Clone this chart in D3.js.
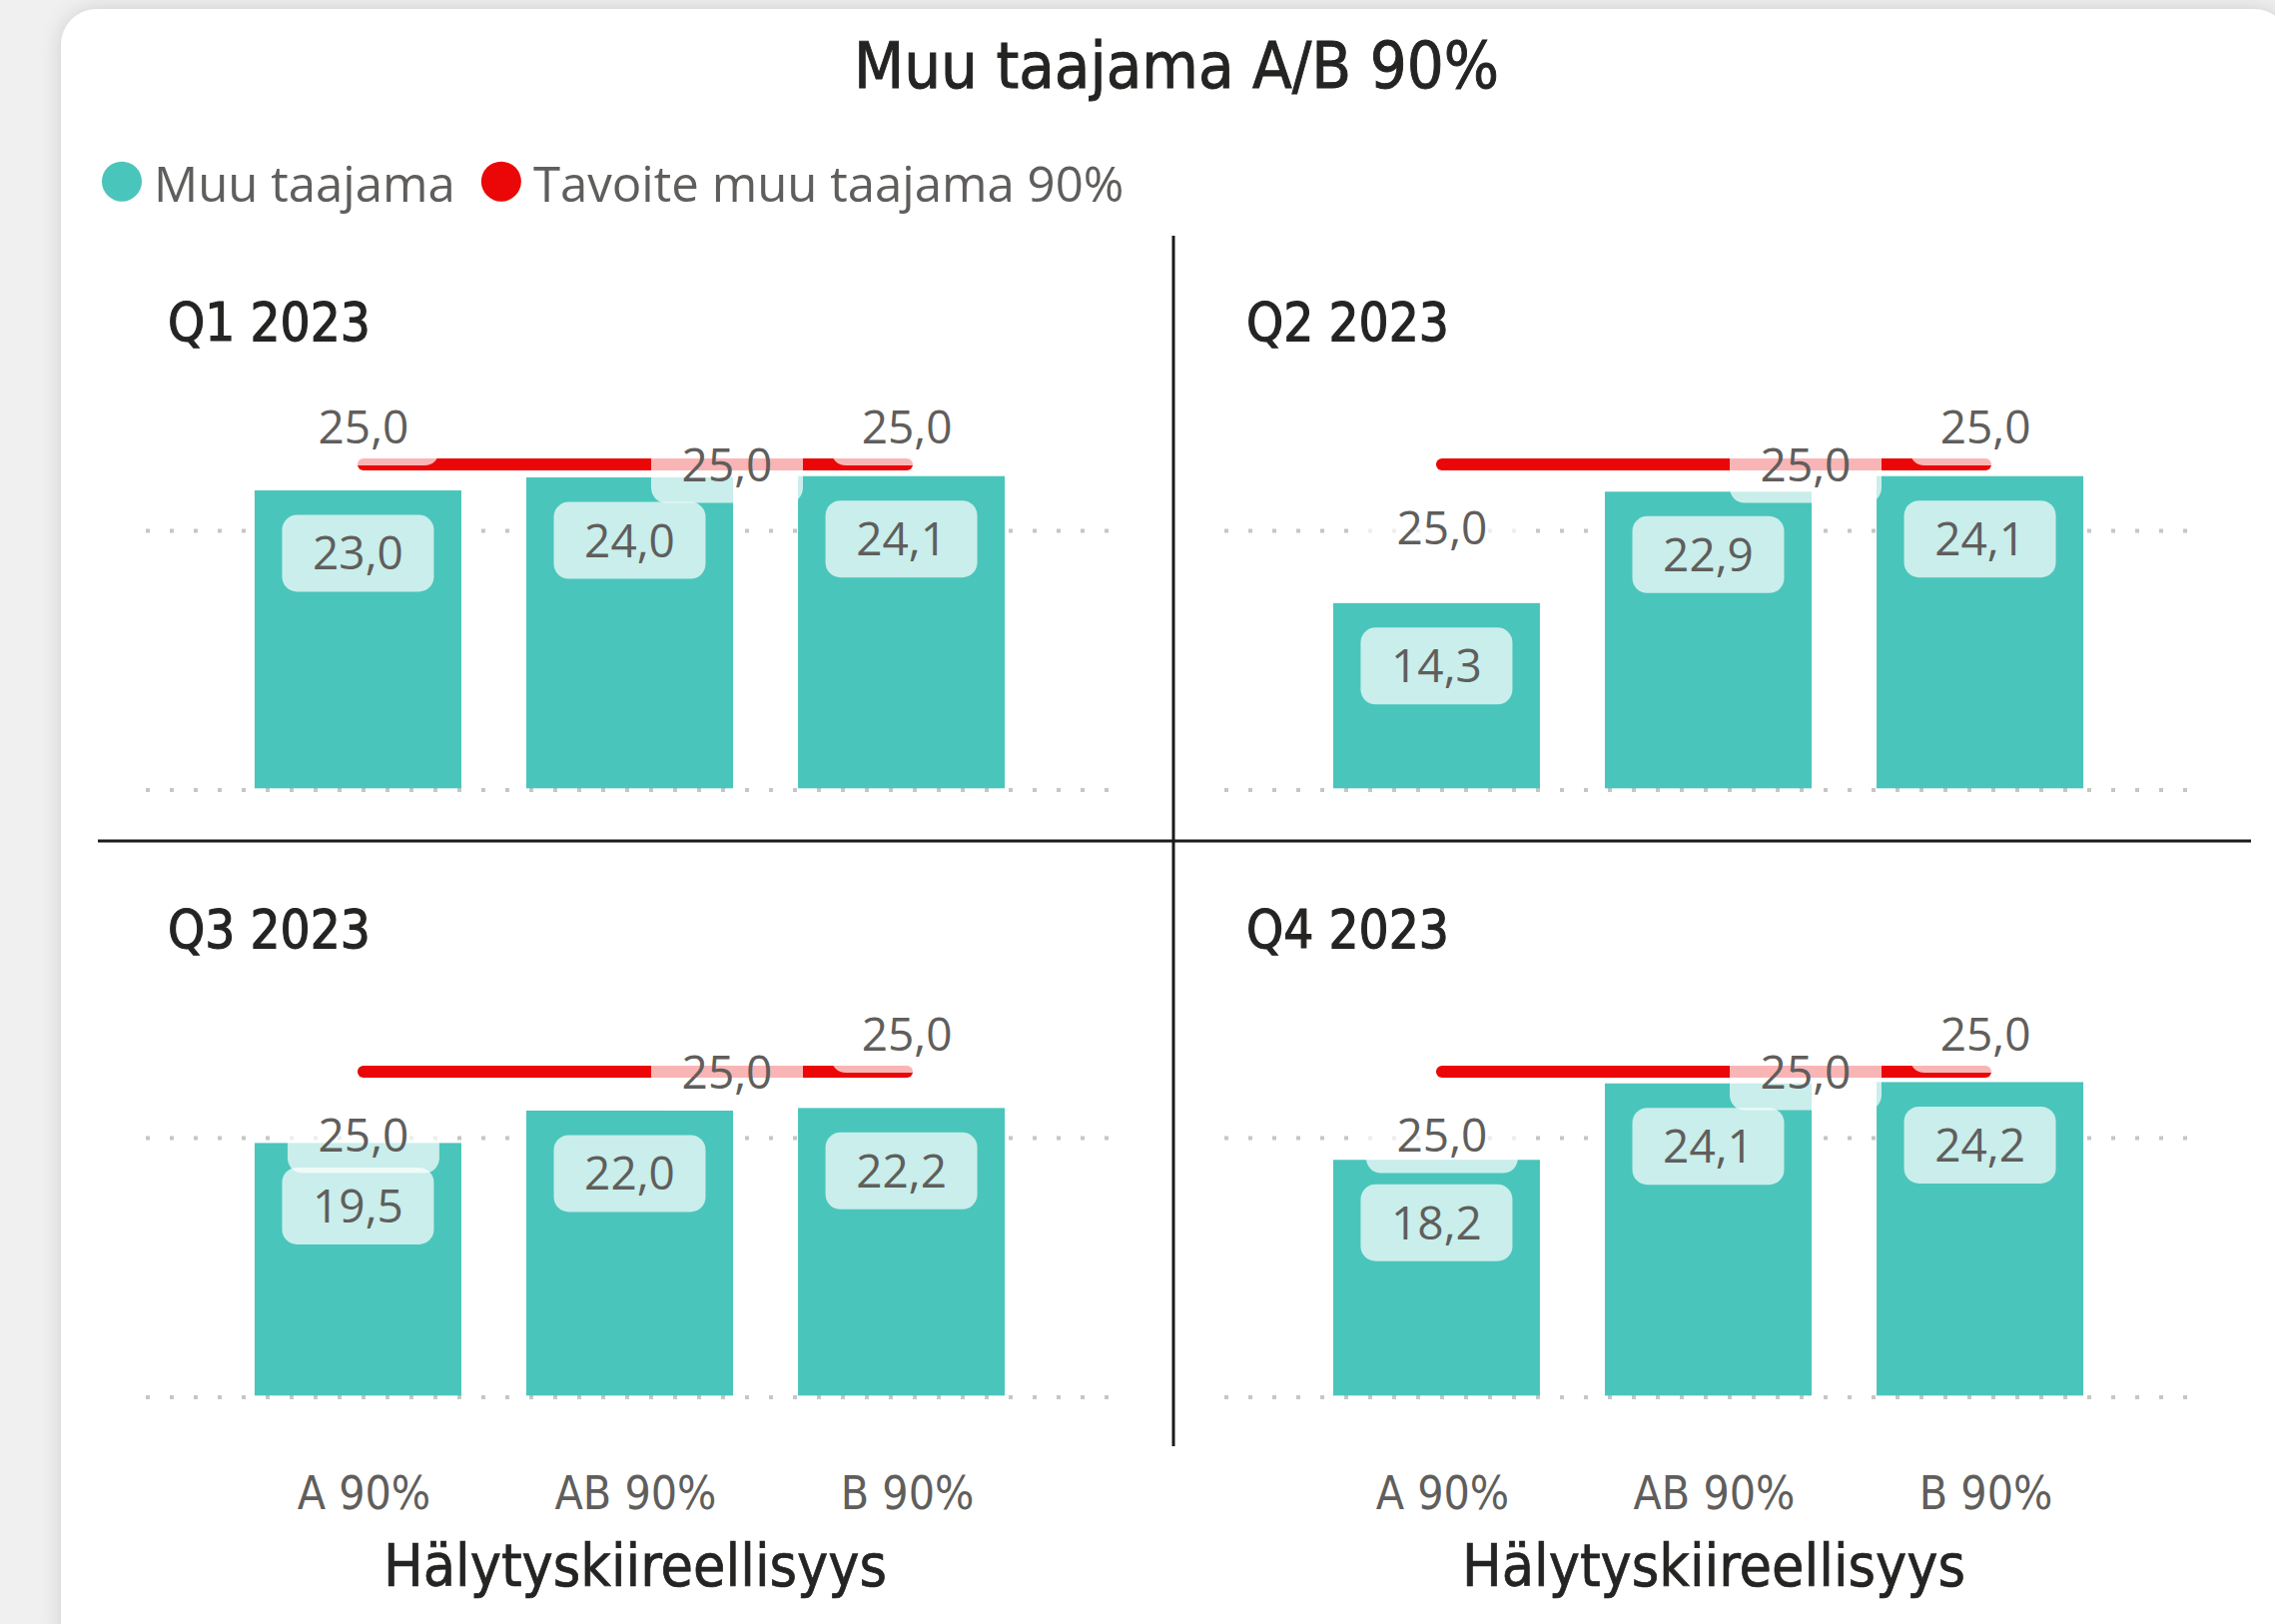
<!DOCTYPE html>
<html>
<head>
<meta charset="utf-8">
<script src="https://cdn.jsdelivr.net/npm/d3@7"></script>
<style>
  html, body { margin: 0; padding: 0; background: #f0f0f0; }
  svg { display: block; }
</style>
</head>
<body>
<svg id="chart" width="2278" height="1626"></svg>
<script>
// ---------- data ----------
const chartTitle = "Muu taajama A/B 90%";
const seriesNames = ["Muu taajama", "Tavoite muu taajama 90%"];
const quarters = ["Q1 2023", "Q2 2023", "Q3 2023", "Q4 2023"];
const categories = ["A 90%", "AB 90%", "B 90%"];
const muuTaajama = [
  [23.0, 24.0, 24.1],
  [14.3, 22.9, 24.1],
  [19.5, 22.0, 22.2],
  [18.2, 24.1, 24.2]
];
const tavoite = [
  [25.0, 25.0, 25.0],
  [25.0, 25.0, 25.0],
  [25.0, 25.0, 25.0],
  [25.0, 25.0, 25.0]
];
const targetLabelPlacement = [
  ["above", "right", "above"],
  ["below", "right", "above"],
  ["below", "right", "above"],
  ["below", "right", "above"]
];
const yTicks = [0, 20];
const axisTitle = "Hälytyskiireellisyys";

// ---------- style ----------
const TEAL = "#4AC5BB";
const RED = "#EB0707";
const LABEL = "#605E5C";
const DARK = "#252423";
const DIN = "'DIN', 'DejaVu Sans Condensed', 'DejaVu Sans', sans-serif";
const SEGOE = "'Segoe UI', 'Open Sans', 'Noto Sans', sans-serif";

const fmt = v => d3.format(".1f")(v).replace(".", ",");

const svg = d3.select("#chart");

function fitWidth(sel, target) {
  const len = sel.node().getComputedTextLength();
  const fs = parseFloat(sel.attr("font-size"));
  sel.attr("font-size", fs * target / len);
  return fs * target / len;
}

// ---------- card ----------
const defs = svg.append("defs");
const f = defs.append("filter").attr("id", "shadow")
  .attr("x", "-5%").attr("y", "-5%").attr("width", "110%").attr("height", "110%");
f.append("feDropShadow").attr("dx", 0).attr("dy", 0).attr("stdDeviation", 10)
  .attr("flood-color", "#000").attr("flood-opacity", 0.15);

svg.append("rect").attr("x", 0).attr("y", 0).attr("width", 2278).attr("height", 1626).attr("fill", "#f0f0f0");
svg.append("rect")
  .attr("x", 61).attr("y", 9).attr("width", 2232).attr("height", 1660)
  .attr("rx", 36).attr("fill", "#fff").attr("filter", "url(#shadow)");

// ---------- title ----------
const title = svg.append("text")
  .attr("x", 1178).attr("y", 88)
  .attr("text-anchor", "middle")
  .attr("font-family", DIN).attr("font-size", 60)
  .attr("fill", DARK).attr("stroke", DARK).attr("stroke-width", 0.9)
  .text(chartTitle);
fitWidth(title, 646);

// ---------- legend ----------
const legendColors = [TEAL, RED];
let lx = 102;
let legendFs = null;
seriesNames.forEach((name, i) => {
  svg.append("circle").attr("cx", lx + 20).attr("cy", 181.7).attr("r", 20).attr("fill", legendColors[i]);
  const t = svg.append("text")
    .attr("x", lx + 52).attr("y", 201.7)
    .attr("font-family", SEGOE).attr("font-size", legendFs || 52)
    .attr("fill", LABEL).text(name);
  if (legendFs === null) legendFs = fitWidth(t, 302);
  lx = lx + 52 + t.node().getComputedTextLength() + 26;
});

// ---------- dividers ----------
svg.append("line").attr("x1", 1175).attr("x2", 1175).attr("y1", 236).attr("y2", 1448)
  .attr("stroke", "#1b1b1b").attr("stroke-width", 3);
svg.append("line").attr("x1", 98).attr("x2", 2254).attr("y1", 842).attr("y2", 842)
  .attr("stroke", "#1b1b1b").attr("stroke-width", 3);

// ---------- panels ----------
const BOX_W = 152, BOX_H = 77, BOX_R = 15;
const DATA_FS = 46, CAP = 33;
let qFs = null, catFs = null, axFs = null;

quarters.forEach((q, i) => {
  const col = i % 2, row = Math.floor(i / 2);
  const dx = col * 1080, dy = row * 608;
  const base = 789.3 + dy;

  const x = d3.scaleBand().domain(categories)
    .range([148 + dx, 1113 + dx])
    .paddingInner(0.239).paddingOuter(0.393);
  const bw = x.bandwidth();
  const xp = d3.scalePoint().domain(categories)
    .range([x(categories[0]) + bw / 2 + 5.5, x(categories[categories.length - 1]) + bw / 2 + 5.5]);
  const y = d3.scaleLinear().domain([0, 30]).range([base, base - 389.1]);

  const g = svg.append("g");

  // quarter label
  const ql = g.append("text")
    .attr("x", 168 + dx).attr("y", 341 + dy)
    .attr("font-family", DIN).attr("font-size", qFs || 55)
    .attr("fill", DARK).attr("stroke", DARK).attr("stroke-width", 1.1)
    .text(q);
  if (qFs === null) qFs = fitWidth(ql, 203);

  // gridlines (dotted)
  g.selectAll(".grid").data(yTicks).enter().append("line")
    .attr("x1", 146 + dx).attr("x2", 1115 + dx)
    .attr("y1", d => y(d) + 1.7).attr("y2", d => y(d) + 1.7)
    .attr("stroke", "#c8c6c4").attr("stroke-width", 4)
    .attr("stroke-dasharray", "4 20");

  const vals = muuTaajama[i];
  const tgts = tavoite[i];

  // bars
  g.selectAll(".bar").data(categories).enter().append("rect")
    .attr("x", c => x(c))
    .attr("y", (c, k) => y(vals[k]))
    .attr("width", bw)
    .attr("height", (c, k) => y(0) - y(vals[k]))
    .attr("fill", TEAL);

  // bar labels
  categories.forEach((c, k) => {
    const cx = x(c) + bw / 2;
    const top = y(vals[k]) + 24.5;
    g.append("rect")
      .attr("x", cx - BOX_W / 2).attr("y", top)
      .attr("width", BOX_W).attr("height", BOX_H).attr("rx", BOX_R)
      .attr("fill", "#fff").attr("fill-opacity", 0.7);
    g.append("text")
      .attr("x", cx).attr("y", top + BOX_H / 2 + CAP / 2)
      .attr("text-anchor", "middle")
      .attr("font-family", SEGOE).attr("font-size", DATA_FS)
      .attr("fill", LABEL)
      .text(fmt(vals[k]));
  });

  // target line
  const line = d3.line().x((c) => xp(c)).y((c, k) => y(tgts[k]));
  g.append("path").datum(categories)
    .attr("d", line)
    .attr("fill", "none").attr("stroke", RED)
    .attr("stroke-width", 12).attr("stroke-linecap", "round").attr("stroke-linejoin", "round");

  // target labels
  categories.forEach((c, k) => {
    const px = xp(c), ly = y(tgts[k]);
    const pl = targetLabelPlacement[i][k];
    let cx = px, cy = ly - 37.5;
    if (pl === "below") { cy = ly + 63; }
    if (pl === "right") { cx = px + 16 + BOX_W / 2; cy = ly; }
    g.append("rect")
      .attr("x", cx - BOX_W / 2).attr("y", cy - BOX_H / 2)
      .attr("width", BOX_W).attr("height", BOX_H).attr("rx", BOX_R)
      .attr("fill", "#fff").attr("fill-opacity", 0.7);
    g.append("text")
      .attr("x", cx).attr("y", cy + CAP / 2)
      .attr("text-anchor", "middle")
      .attr("font-family", SEGOE).attr("font-size", DATA_FS)
      .attr("fill", LABEL)
      .text(fmt(tgts[k]));
  });

  // category axis (bottom row only)
  if (row === 1) {
    const ax = g.append("g")
      .attr("transform", `translate(0, ${1510.7})`)
      .call(d3.axisBottom(xp).tickSize(0).tickPadding(0));
    ax.select(".domain").remove();
    ax.selectAll("text")
      .attr("y", 0).attr("dy", null)
      .attr("font-family", DIN).attr("font-size", catFs || 46)
      .attr("fill", LABEL);
    if (catFs === null) {
      const ab = ax.selectAll("text").filter(d => d === "AB 90%");
      catFs = fitWidth(ab, 162);
      ax.selectAll("text").attr("font-size", catFs);
    }
    const at = g.append("text")
      .attr("x", xp(categories[1])).attr("y", 1588)
      .attr("text-anchor", "middle")
      .attr("font-family", DIN).attr("font-size", axFs || 50)
      .attr("fill", DARK).attr("stroke", DARK).attr("stroke-width", 0.7)
      .text(axisTitle);
    if (axFs === null) axFs = fitWidth(at, 504);
  }
});
</script>
</body>
</html>
